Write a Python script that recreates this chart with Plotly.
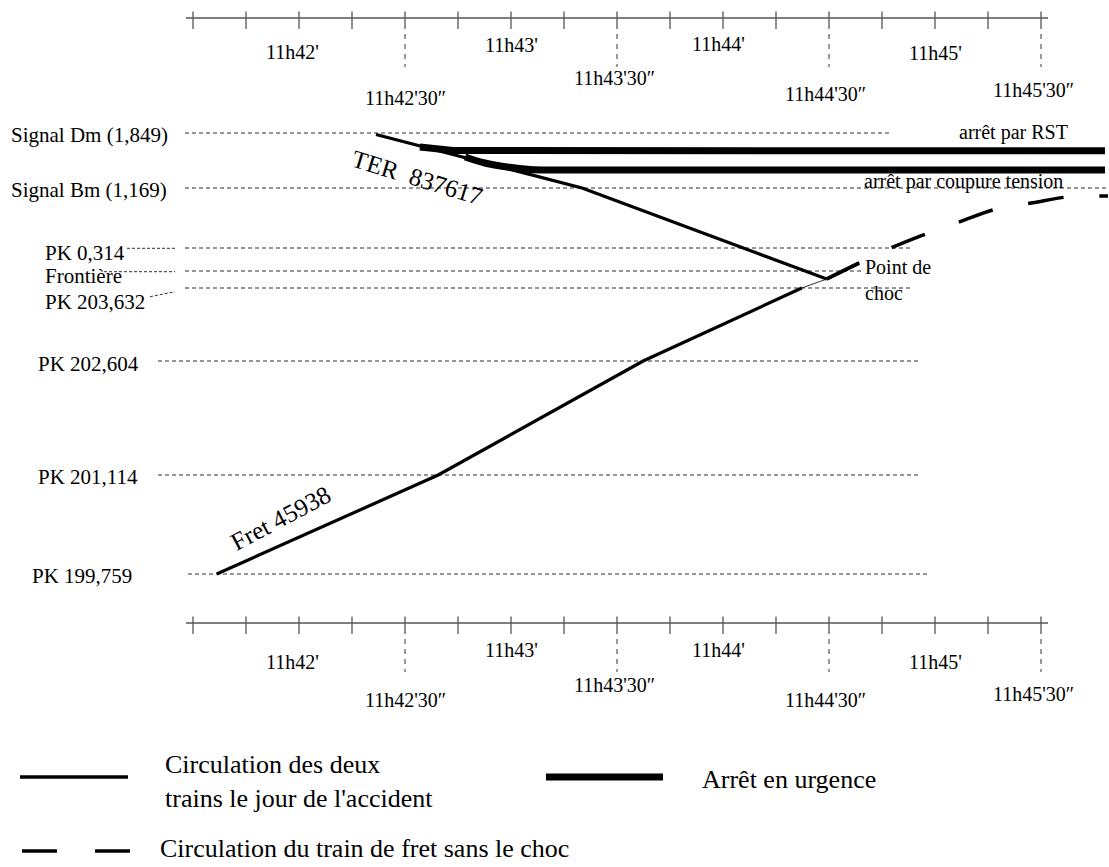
import plotly.graph_objects as go

# ---------------- data ----------------
# time in seconds after 11h40'00", distance in km from PK 199,759
tick_times = [90, 105, 120, 135, 150, 165, 180, 195, 210, 225, 240, 255, 270, 285, 300, 315, 330]
minute_times = [120, 180, 240, 300]
minute_labels = ["11h42'", "11h43'", "11h44'", "11h45'"]
half_times = [150, 210, 270, 330]
half_labels = ["11h42'30\u2033", "11h43'30\u2033", "11h44'30\u2033", "11h45'30\u2033"]

station_names = ["PK 199,759", "PK 201,114", "PK 202,604", "PK 203,632",
                 "Frontière", "PK 0,314", "Signal Bm (1,169)", "Signal Dm (1,849)"]
station_km = [0.0, 1.338, 2.878, 3.865, 4.095, 4.405, 5.216, 5.959]

fret_t = [96.7, 159.4, 217.4, 262.3, 269.35]
fret_km = [0.0, 1.338, 2.878, 3.865, 3.986]

ter_t = [141.8, 200.1, 269.35]
ter_km = [5.94, 5.216, 3.986]

after_t = [269.35, 278.3]
after_km = [3.986, 4.198]

nochoc_t = [269.35, 287.3, 296.6, 307.1, 317.0, 327.7, 338.2, 348.96]
nochoc_km = [3.986, 4.401, 4.581, 4.761, 4.928, 5.018, 5.099, 5.108]

rst_t = [154.2, 159.0, 163.6, 348.1]
rst_km = [5.77, 5.74, 5.722, 5.72]

coupure_t = [167.0, 172.6, 178.9, 185.4, 193.9, 348.1]
coupure_km = [5.635, 5.554, 5.500, 5.466, 5.459, 5.459]

# ---------------- layout geometry ----------------
W, H = 1109, 867
X0, T0, PXS = 299.0, 120.0, 212.0 / 60.0
Y0, PXK = 574.0, 74.0


def tx(px):
    return T0 + (px - X0) / PXS


def dy(py):
    return (Y0 - py) / PXK


FONT = "Liberation Serif, Times New Roman, serif"
GRID = "#2e2e2e"
fig = go.Figure()


def seg_trace(xs, ys, color="black", width=1.0, dash="solid", shape="linear"):
    fig.add_trace(go.Scatter(x=xs, y=ys, mode="lines", hoverinfo="skip", showlegend=False,
                             line=dict(color=color, width=width, dash=dash, shape=shape)))


# station reference lines (dashed)
line_start_px = {"PK 199,759": 188, "PK 201,114": 158, "PK 202,604": 158, "PK 203,632": 185,
                 "Frontière": 185, "PK 0,314": 185, "Signal Bm (1,169)": 185, "Signal Dm (1,849)": 185}
line_end_px = {"PK 199,759": 928, "PK 201,114": 918, "PK 202,604": 918, "PK 203,632": 912,
               "Frontière": 863, "PK 0,314": 912, "Signal Bm (1,169)": 1109, "Signal Dm (1,849)": 891}
for name, km in zip(station_names, station_km):
    seg_trace([tx(line_start_px[name]), tx(line_end_px[name])], [km, km],
              color=GRID, width=1.1, dash="4px,3px")

# connectors from labels
seg_trace([tx(127), tx(175)], [dy(248.3), dy(248.3)], color=GRID, width=1, dash="3px,2px")
seg_trace([tx(104), tx(175)], [dy(271.7), dy(271.7)], color=GRID, width=1, dash="3px,2px")
seg_trace([tx(150), tx(175)], [dy(296.7), dy(291.7)], color=GRID, width=1, dash="3px,2px")

# station labels
label_pos = {"Signal Dm (1,849)": (9, 135), "Signal Bm (1,169)": (9, 190),
             "PK 0,314": (43, 253), "Frontière": (43, 275.5), "PK 203,632": (43, 301.5),
             "PK 202,604": (36, 364), "PK 201,114": (36, 477), "PK 199,759": (30, 576)}
annotations = []
for name in station_names:
    px, py = label_pos[name]
    annotations.append(dict(text=name, xref="paper", yref="paper", x=px / W, y=1 - py / H,
                            xanchor="left", yanchor="middle", showarrow=False,
                            font=dict(family=FONT, size=21, color="black")))

# time axes (top and bottom)
for axis_py, lab_off_min, lab_off_half in [(18, [34, 27, 26, 35], [80, 60, 76, 72]),
                                           (623, [39, 27, 27, 39], [77, 62, 77, 71])]:
    seg_trace([tx(186), tx(1048)], [dy(axis_py), dy(axis_py)], color="black", width=1.2)
    xs, ys = [], []
    for t in tick_times:
        xs += [t, t, None]
        ys += [dy(axis_py - 6.5), dy(axis_py + 11), None]
    seg_trace(xs, ys, color="#555555", width=1.3)
    xs, ys = [], []
    for t in half_times:
        xs += [t, t, None]
        ys += [dy(axis_py + 16), dy(axis_py + 49), None]
    seg_trace(xs, ys, color="#555555", width=1.2, dash="5px,5px")
    for t, lab, off, sh in zip(minute_times, minute_labels, lab_off_min, [-7, 0, -5, 0]):
        annotations.append(dict(text=lab, xref="x", yref="paper", x=t, y=1 - (axis_py + off) / H,
                                xshift=sh, xanchor="center", yanchor="middle", showarrow=False,
                                font=dict(family=FONT, size=20, color="black")))
    for t, lab, off, sh in zip(half_times, half_labels, lab_off_half, [0, -3, -4, -8]):
        annotations.append(dict(text=lab, xref="x", yref="paper", x=t, y=1 - (axis_py + off) / H,
                                xshift=sh, xanchor="center", yanchor="middle", showarrow=False,
                                font=dict(family=FONT, size=20, color="black")))

# emergency stops (thick)
seg_trace(rst_t, rst_km, width=7)
seg_trace(coupure_t, coupure_km, width=7, shape="spline")

# trains
seg_trace(ter_t, ter_km, width=3.2)
seg_trace(fret_t[:4], fret_km[:4], width=3.2)
seg_trace(fret_t[3:], fret_km[3:], width=0.8)
seg_trace(after_t, after_km, width=3.5)
seg_trace(nochoc_t, nochoc_km, width=3.5, dash="36px,36px", shape="spline")

# train names and other texts
texts = [
    ("TER  837617", 417, 177, 25, 17, "center"),
    ("Fret 45938", 280, 518, 25, -28, "center"),
    ("arrêt par RST", 957, 132, 20, 0, "left"),
    ("arrêt par coupure tension", 862, 182, 20, 0, "left"),
    ("Point de<br>choc", 863, 280, 20, 0, "left"),
]
for txt, px, py, size, ang, xa in texts:
    annotations.append(dict(text=txt, xref="paper", yref="paper", x=px / W, y=1 - py / H,
                            xanchor=xa, yanchor="middle", textangle=ang, showarrow=False,
                            align="left", font=dict(family=FONT, size=size, color="black")))

# legend
shapes = [
    dict(type="line", xref="paper", yref="paper", x0=20 / W, x1=128 / W, y0=1 - 777 / H, y1=1 - 777 / H,
         line=dict(color="black", width=3.5)),
    dict(type="line", xref="paper", yref="paper", x0=546 / W, x1=663 / W, y0=1 - 777 / H, y1=1 - 777 / H,
         line=dict(color="black", width=7)),
    dict(type="line", xref="paper", yref="paper", x0=22 / W, x1=57 / W, y0=1 - 851 / H, y1=1 - 851 / H,
         line=dict(color="black", width=3.5)),
    dict(type="line", xref="paper", yref="paper", x0=95 / W, x1=130 / W, y0=1 - 851 / H, y1=1 - 851 / H,
         line=dict(color="black", width=3.5)),
]
for txt, px, py in [("Circulation des deux<br>trains le jour de l'accident", 163, 781),
                    ("Arrêt en urgence", 700, 779),
                    ("Circulation du train de fret sans le choc", 158, 848)]:
    annotations.append(dict(text=txt, xref="paper", yref="paper", x=px / W, y=1 - py / H,
                            xanchor="left", yanchor="middle", showarrow=False, align="left",
                            font=dict(family=FONT, size=26, color="black")))

fig.update_layout(
    width=W, height=H, autosize=False,
    margin=dict(l=0, r=0, t=0, b=0, pad=0),
    paper_bgcolor="white", plot_bgcolor="white",
    xaxis=dict(range=[tx(0), tx(W)], visible=False, fixedrange=True),
    yaxis=dict(range=[dy(H), dy(0)], visible=False, fixedrange=True),
    annotations=annotations, shapes=shapes, showlegend=False,
)

fig.write_html("out.html", post_script="document.body.style.margin='0';",
               config={"displayModeBar": False})
